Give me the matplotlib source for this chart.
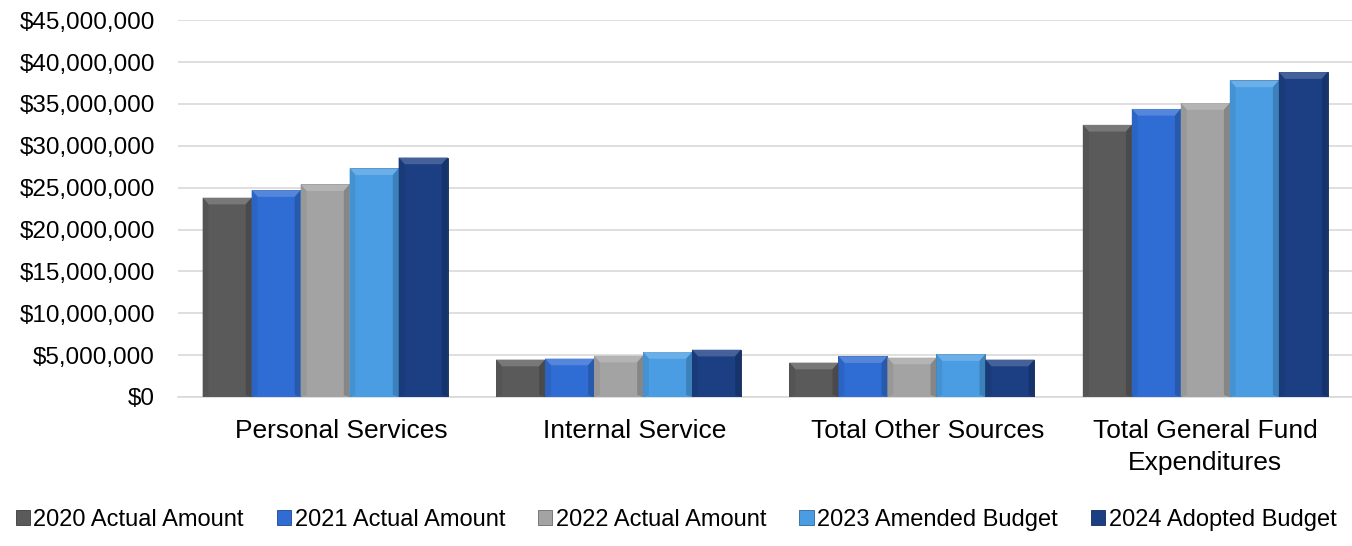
import numpy as np
import matplotlib.pyplot as plt
import matplotlib.transforms as mtransforms
from matplotlib.patches import Polygon
from matplotlib.ticker import FuncFormatter, MultipleLocator

plt.rcParams['font.family'] = ['Liberation Sans', 'DejaVu Sans']

categories = ["Personal Services", "Internal Service", "Total Other Sources",
              "Total General Fund\nExpenditures"]
series = ["2020 Actual Amount", "2021 Actual Amount", "2022 Actual Amount",
          "2023 Amended Budget", "2024 Adopted Budget"]
fy2020 = [23.8e6, 4.46e6, 4.10e6, 32.5e6]
fy2021 = [24.7e6, 4.58e6, 4.86e6, 34.4e6]
fy2022 = [25.4e6, 4.93e6, 4.70e6, 35.1e6]
fy2023 = [27.3e6, 5.36e6, 5.10e6, 37.8e6]
fy2024 = [28.6e6, 5.64e6, 4.46e6, 38.8e6]
colors = ["#5a5a5a", "#2f6cd3", "#a3a3a3", "#4a9de3", "#1b3f82"]

values = [fy2020, fy2021, fy2022, fy2023, fy2024]


def shade(c, f):
    rgb = np.array(plt.matplotlib.colors.to_rgb(c))
    if f > 0:
        rgb = rgb + (1 - rgb) * f
    else:
        rgb = rgb * (1 + f)
    return tuple(np.clip(rgb, 0, 1))


fig = plt.figure(figsize=(13.52, 5.46), dpi=100)
ax = fig.add_axes([0.132, 0.273, 0.868, 0.69])

x = np.arange(len(categories))
width = 0.167
for i, (vals, col) in enumerate(zip(values, colors)):
    bars = ax.bar(x + (i - 2) * width, vals, width, color=col,
                  edgecolor=shade(col, -0.35), linewidth=0.6, label=series[i], zorder=3)
    # bevelled look: lighter top face, slightly darker sides
    for b in bars:
        x0, w, h = b.get_x(), b.get_width(), b.get_height()
        dx = w * 0.12
        dy = min(0.8e6, h * 0.3)
        top = Polygon([(x0, h), (x0 + w, h), (x0 + w - dx, h - dy), (x0 + dx, h - dy)],
                      closed=True, facecolor=shade(col, 0.18), edgecolor='none', zorder=4)
        left = Polygon([(x0, 0), (x0, h), (x0 + dx, h - dy), (x0 + dx, dy * 0.3)],
                       closed=True, facecolor=shade(col, -0.07), edgecolor='none', zorder=4)
        right = Polygon([(x0 + w, 0), (x0 + w, h), (x0 + w - dx, h - dy), (x0 + w - dx, dy * 0.3)],
                        closed=True, facecolor=shade(col, -0.18), edgecolor='none', zorder=4)
        for p in (top, left, right):
            ax.add_patch(p)

ax.set_xlim(-0.5, len(categories) - 0.5)
ax.set_ylim(0, 45e6)
ax.yaxis.set_major_locator(MultipleLocator(5e6))
ax.yaxis.set_major_formatter(FuncFormatter(lambda v, p: "${:,.0f}".format(v)))
ax.grid(axis='y', color='#d9d9d9', linewidth=1.2, zorder=0)
ax.set_axisbelow(True)
for s in ['top', 'right', 'left']:
    ax.spines[s].set_visible(False)
ax.spines['bottom'].set_color('#d9d9d9')
ax.spines['bottom'].set_linewidth(1.2)
ax.tick_params(axis='both', length=0, colors='black')
ax.tick_params(axis='y', pad=17, labelsize=17.5)
ax.tick_params(axis='x', pad=16)
ax.set_xticks(x)
ax.set_xticklabels(categories, fontsize=19, linespacing=1.4)

# single-line category labels sit a little right of the group centre
shift = mtransforms.ScaledTranslation(0.16, 0, fig.dpi_scale_trans)
for lbl in ax.get_xticklabels():
    if "\n" not in lbl.get_text():
        lbl.set_transform(lbl.get_transform() + shift)

handles, labels = ax.get_legend_handles_labels()
leg = fig.legend(handles, labels, loc='lower center', bbox_to_anchor=(0.5, -0.012), ncol=5,
                 frameon=False, fontsize=17, handlelength=0.6, handleheight=0.6,
                 handletextpad=0.15, columnspacing=1.4)

fig.savefig("out.png", dpi=100)
